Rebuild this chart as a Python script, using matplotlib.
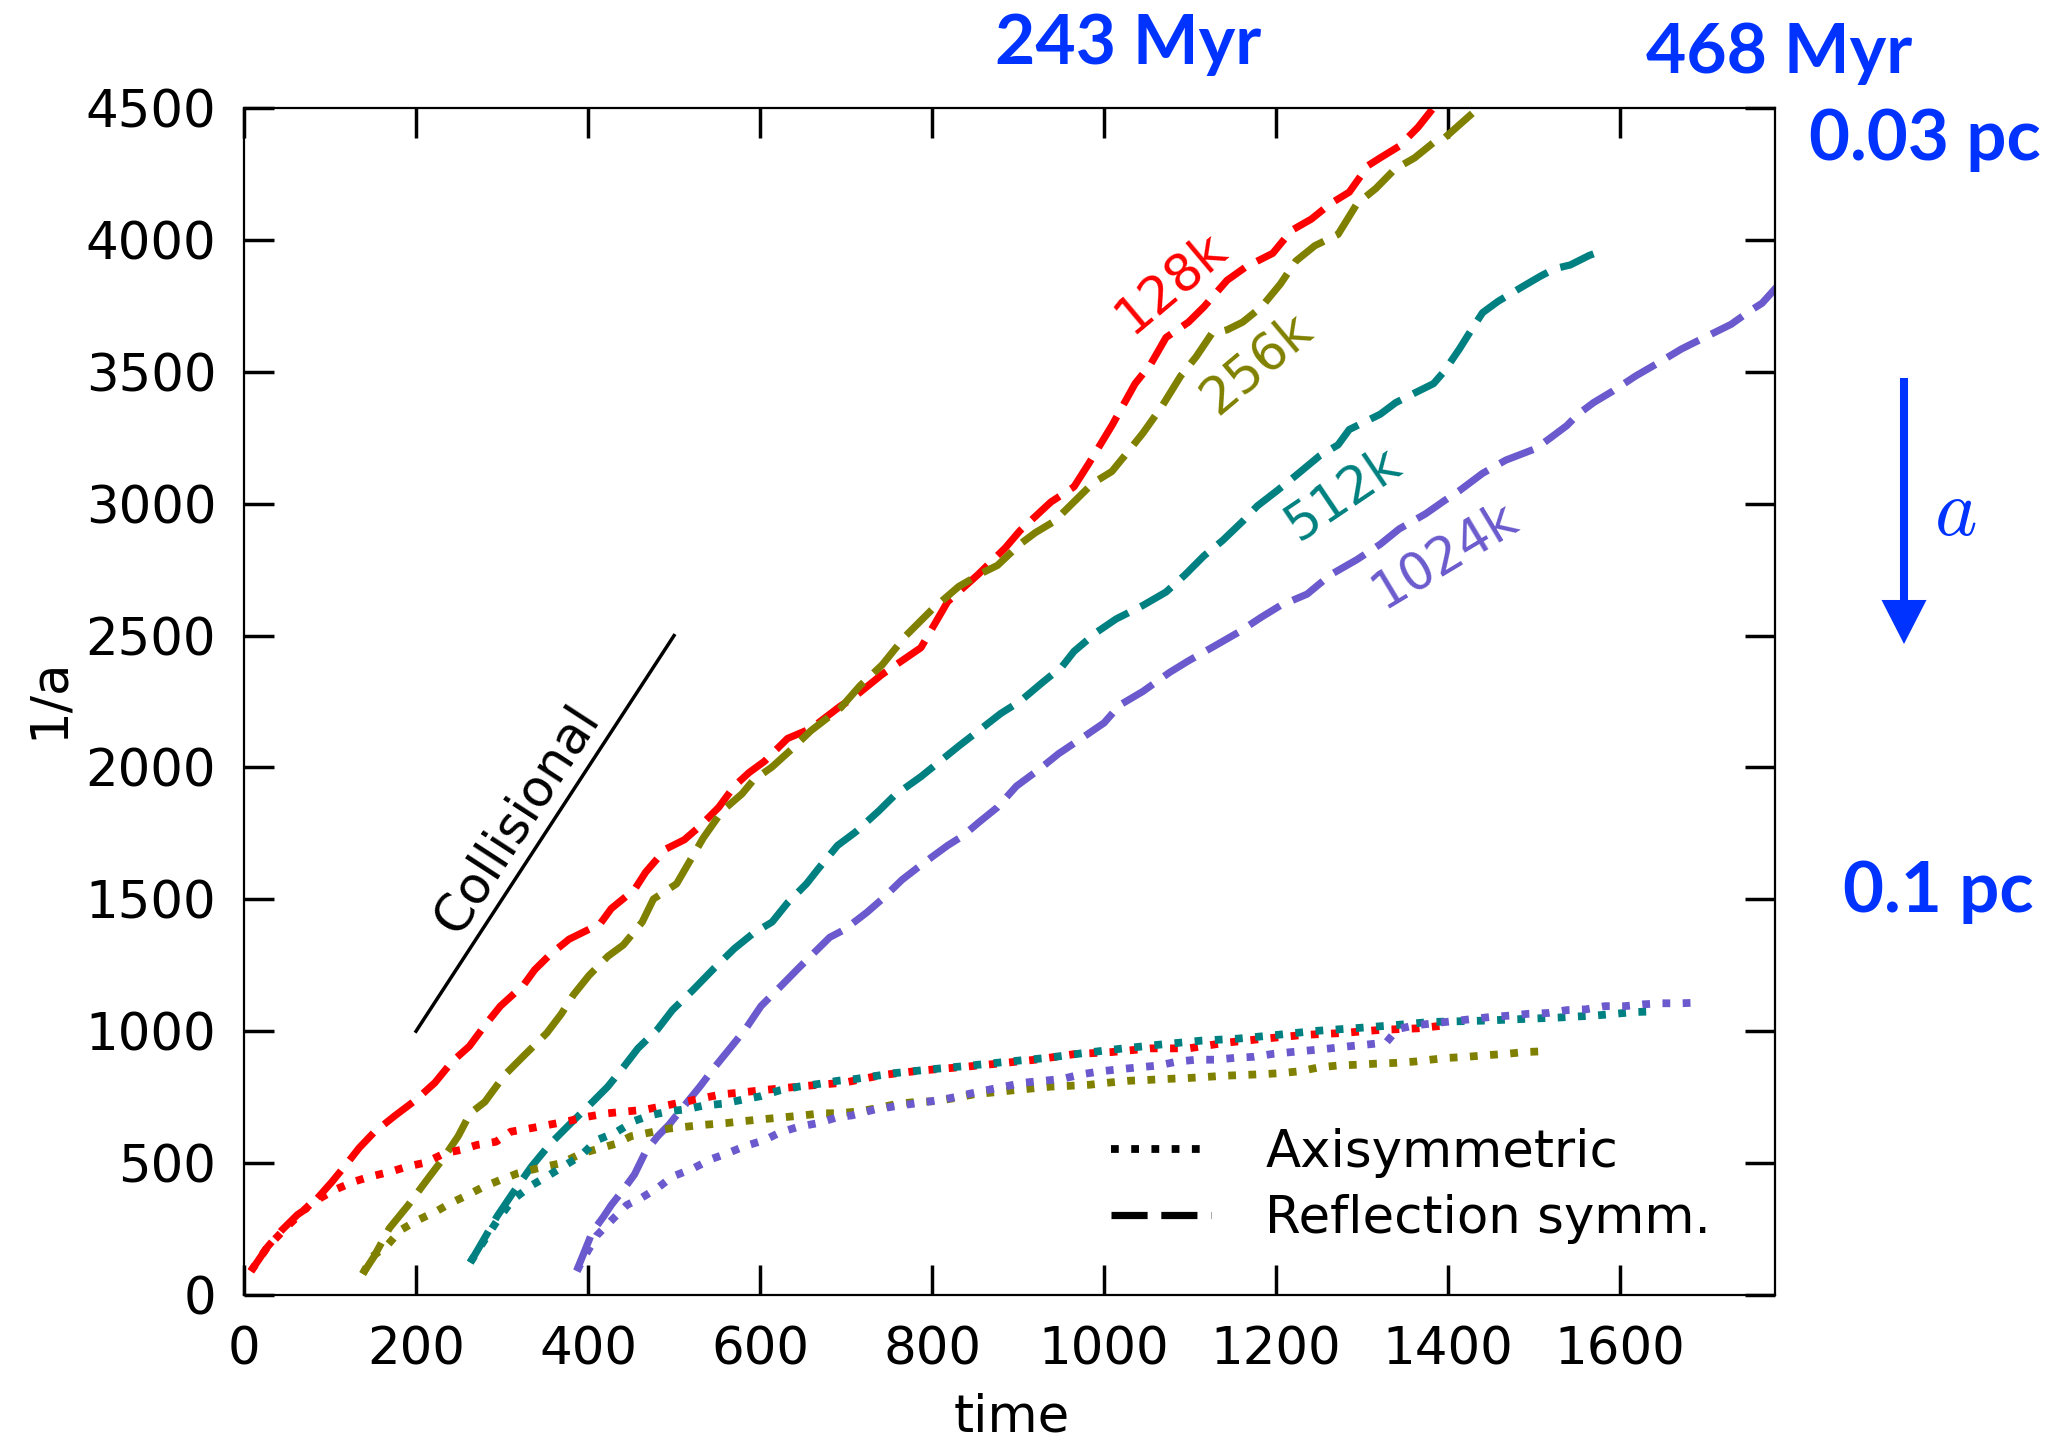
import matplotlib
matplotlib.use('Agg')
import matplotlib.pyplot as plt
from matplotlib.lines import Line2D

plt.rcParams['font.family'] = 'DejaVu Sans'

# --- data: time vs 1/a ---
# 128k, reflection symmetric (dashed)
t_128_ref = [8, 27, 44, 62, 78, 102, 120, 134, 151, 176, 200, 222, 242, 262, 280, 298, 325, 338,
             356, 378, 414, 427, 454, 467, 490, 512, 530, 552, 570, 587, 605, 632, 659, 694, 706,
             742, 787, 818, 853, 885, 902, 938, 965, 982, 1009, 1036, 1054, 1072, 1098, 1116, 1143,
             1165, 1196, 1218, 1241, 1263, 1285, 1307, 1321, 1343, 1365, 1390]
a_128_ref = [90, 181, 246, 304, 340, 428, 500, 558, 616, 681, 740, 805, 885, 943, 1022, 1095, 1175,
             1233, 1291, 1349, 1407, 1465, 1537, 1603, 1690, 1726, 1777, 1849, 1929, 1980, 2023, 2110,
             2147, 2234, 2258, 2353, 2454, 2628, 2730, 2832, 2897, 3006, 3064, 3151, 3296, 3455, 3528,
             3630, 3688, 3746, 3847, 3898, 3949, 4036, 4079, 4137, 4181, 4282, 4311, 4355, 4427, 4530]

# 256k, reflection symmetric
t_256_ref = [138, 151, 169, 191, 214, 231, 249, 263, 280, 303, 325, 352, 369, 383, 401, 423, 441, 463,
             476, 503, 516, 534, 556, 579, 592, 614, 636, 659, 694, 716, 742, 769, 800, 831, 858, 876,
             902, 920, 942, 969, 987, 1009, 1027, 1045, 1067, 1089, 1107, 1125, 1143, 1161, 1183, 1205,
             1223, 1245, 1272, 1294, 1316, 1338, 1361, 1383, 1395, 1442]
a_256_ref = [80, 145, 253, 341, 442, 515, 602, 689, 732, 834, 906, 993, 1066, 1138, 1211, 1284, 1327,
             1414, 1501, 1559, 1632, 1733, 1835, 1900, 1951, 2002, 2067, 2139, 2227, 2309, 2389, 2498,
             2599, 2686, 2737, 2766, 2846, 2890, 2933, 3020, 3078, 3122, 3194, 3267, 3368, 3484, 3557,
             3644, 3659, 3688, 3746, 3833, 3920, 3978, 4021, 4137, 4195, 4268, 4311, 4369, 4384, 4520]

# 512k, reflection symmetric
t_512_ref = [263, 276, 294, 312, 334, 356, 378, 401, 423, 441, 458, 481, 498, 521, 547, 570, 592, 614,
             632, 654, 668, 690, 711, 738, 756, 787, 809, 831, 854, 880, 902, 929, 951, 965, 991, 1014,
             1045, 1072, 1094, 1116, 1138, 1161, 1178, 1201, 1223, 1250, 1272, 1285, 1321, 1339, 1365,
             1383, 1395, 1413, 1427, 1440, 1458, 1484, 1507, 1524, 1542, 1564, 1580]
a_512_ref = [123, 195, 297, 384, 486, 573, 645, 718, 790, 863, 935, 1008, 1080, 1153, 1240, 1313, 1371,
             1414, 1487, 1559, 1617, 1704, 1755, 1835, 1893, 1965, 2023, 2081, 2139, 2205, 2250, 2324,
             2382, 2440, 2512, 2563, 2614, 2665, 2730, 2802, 2861, 2933, 2991, 3049, 3107, 3180, 3223,
             3281, 3339, 3383, 3426, 3455, 3500, 3586, 3659, 3724, 3767, 3818, 3862, 3891, 3905, 3941,
             3960]

# 1024k, reflection symmetric
t_1024_ref = [387, 396, 405, 418, 427, 441, 454, 467, 481, 494, 512, 530, 547, 565, 583, 601, 623, 645,
              663, 681, 698, 724, 742, 765, 782, 800, 818, 836, 854, 876, 898, 925, 947, 974, 1000,
              1018, 1045, 1076, 1098, 1125, 1156, 1183, 1205, 1236, 1263, 1294, 1321, 1343, 1374, 1395,
              1413, 1440, 1467, 1502, 1520, 1538, 1551, 1569, 1591, 1618, 1645, 1671, 1698, 1729, 1751,
              1765, 1781, 1795]
a_1024_ref = [94, 166, 239, 297, 341, 399, 457, 544, 602, 645, 718, 790, 863, 935, 1008, 1095, 1167,
              1240, 1298, 1356, 1385, 1450, 1501, 1574, 1617, 1661, 1704, 1741, 1791, 1849, 1929, 1994,
              2052, 2111, 2169, 2236, 2288, 2360, 2404, 2454, 2512, 2570, 2614, 2657, 2730, 2788, 2846,
              2904, 2962, 3010, 3049, 3115, 3165, 3209, 3252, 3296, 3339, 3383, 3426, 3484, 3535, 3586,
              3630, 3680, 3731, 3760, 3818, 3845]

# axisymmetric runs (dotted)
t_128_axi = [8, 27, 50, 78, 105, 128, 147, 171, 190, 211, 233, 252, 271, 293, 310, 333, 378, 396, 423,
             445, 467, 490, 512, 534, 556, 579, 601, 623, 645, 668, 698, 742, 787, 831, 876, 920, 965,
             1009, 1054, 1098, 1143, 1187, 1232, 1276, 1321, 1365, 1390]
a_128_axi = [90, 181, 259, 347, 398, 430, 449, 468, 487, 502, 537, 550, 569, 581, 619, 632, 660, 674,
             689, 696, 703, 718, 732, 747, 761, 768, 776, 783, 790, 797, 805, 834, 851, 863, 877, 892,
             913, 921, 935, 935, 957, 972, 986, 993, 1005, 1011, 1020]

t_256_axi = [138, 149, 167, 182, 202, 223, 240, 260, 279, 298, 318, 341, 369, 392, 432, 450, 472, 494,
             534, 561, 583, 605, 628, 650, 672, 690, 716, 738, 760, 782, 805, 827, 849, 871, 894, 916,
             938, 960, 983, 1005, 1027, 1049, 1072, 1094, 1116, 1138, 1161, 1183, 1205, 1227, 1250,
             1272, 1294, 1316, 1339, 1361, 1379, 1400, 1422, 1444, 1467, 1489, 1511]
a_256_axi = [80, 145, 190, 246, 284, 316, 348, 379, 411, 436, 461, 480, 500, 536, 573, 602, 616, 631,
             645, 652, 660, 667, 674, 681, 689, 689, 696, 710, 725, 732, 735, 747, 761, 768, 776, 783,
             790, 793, 797, 805, 812, 815, 819, 822, 826, 831, 834, 837, 841, 848, 863, 870, 873, 877,
             880, 885, 892, 899, 903, 909, 914, 921, 924]

t_512_axi = [263, 276, 294, 312, 334, 352, 374, 392, 410, 432, 454, 472, 494, 516, 534, 556, 579, 601,
             623, 645, 668, 690, 711, 756, 800, 845, 889, 934, 978, 1023, 1067, 1112, 1156, 1201, 1245,
             1290, 1334, 1379, 1440, 1484, 1529, 1573, 1618, 1640]
a_512_axi = [123, 190, 280, 360, 415, 449, 493, 529, 587, 616, 660, 681, 696, 705, 718, 725, 740, 754,
             776, 790, 800, 812, 819, 841, 856, 870, 885, 899, 918, 935, 950, 964, 972, 986, 1001, 1011,
             1022, 1035, 1040, 1046, 1052, 1060, 1073, 1075]

t_1024_axi = [387, 392, 410, 427, 445, 463, 481, 498, 521, 543, 561, 583, 605, 623, 645, 668, 690, 707,
              733, 756, 778, 800, 822, 845, 867, 907, 929, 951, 974, 996, 1018, 1040, 1063, 1085, 1107,
              1129, 1152, 1174, 1196, 1218, 1241, 1263, 1285, 1307, 1328, 1341, 1361, 1383, 1422, 1449,
              1471, 1493, 1516, 1538, 1560, 1582, 1605, 1627, 1649, 1671, 1694]
a_1024_axi = [90, 123, 225, 282, 341, 370, 406, 449, 478, 515, 536, 565, 587, 616, 638, 652, 674, 681,
              703, 715, 725, 735, 747, 764, 779, 805, 812, 819, 837, 848, 856, 863, 870, 885, 892, 892,
              899, 903, 914, 921, 928, 935, 943, 950, 957, 1008, 1022, 1030, 1044, 1054, 1059, 1066,
              1069, 1080, 1083, 1095, 1095, 1102, 1106, 1106, 1109]

labels = ['128k', '256k', '512k', '1024k']
colors = ['#ff0000', '#808000', '#008080', '#6a5acd']
ref_runs = [(t_128_ref, a_128_ref), (t_256_ref, a_256_ref), (t_512_ref, a_512_ref), (t_1024_ref, a_1024_ref)]
axi_runs = [(t_128_axi, a_128_axi), (t_256_axi, a_256_axi), (t_512_axi, a_512_axi), (t_1024_axi, a_1024_axi)]

blue = '#0033ff'
W, H = 2066, 1443

fig = plt.figure(figsize=(W / 100, H / 100), dpi=100)
ax = fig.add_axes([244 / W, 1 - 1295 / H, 1531 / W, 1187 / H])

dash = (0, (5.0, 1.9))
dot = (0, (1.0, 1.6))
lw_dash = 5.2
lw_dot = 5.6

for (t, a), c in zip(ref_runs, colors):
    ax.plot(t, a, color=c, lw=lw_dash, ls=dash)
for (t, a), c in zip(axi_runs, colors):
    ax.plot(t, a, color=c, lw=lw_dot, ls=dot)

# run labels next to the curves
label_pos = [(1078, 3837, 40), (1178, 3529, 40), (1278, 3037, 34), (1396, 2805, 31)]
for lab, c, (x, y, rot) in zip(labels, colors, label_pos):
    ax.text(x, y, lab, color=c, fontsize=37, rotation=rot, ha='center', va='center')

# collisional slope guide
ax.plot([200, 500], [1000, 2500], color='black', lw=2.5)
ax.text(318, 1801, 'Collisional', fontsize=37, rotation=57, ha='center', va='center')

ax.set_xlim(0, 1780)
ax.set_ylim(0, 4500)
ax.set_xticks(range(0, 1601, 200))
ax.set_yticks(range(0, 4501, 500))
ax.tick_params(direction='in', length=21.6, width=2.5, labelsize=37, top=True, right=True)
ax.tick_params(axis='x', pad=22)
ax.tick_params(axis='y', pad=20)
for s in ax.spines.values():
    s.set_linewidth(1.6)

ax.set_xlabel('time', fontsize=37)
ax.xaxis.set_label_coords(0.5016, -0.082)
ax.set_ylabel('1/a', fontsize=37)
ax.yaxis.set_label_coords(-0.111, 0.503)

handles = [Line2D([], [], color='black', lw=lw_dot, ls=dot),
           Line2D([], [], color='black', lw=lw_dash, ls=dash)]
ax.legend(handles, ['Axisymmetric', 'Reflection symm.'], frameon=False, fontsize=37,
          handlelength=1.95, handletextpad=1.05, labelspacing=0.32, borderpad=0, borderaxespad=0,
          loc='upper left', bbox_to_anchor=(1111 / W, 1 - 1128 / H), bbox_transform=fig.transFigure)

# blue annotations outside the axes
bold = dict(color=blue, fontweight='bold', family='Lato', ha='left', va='baseline')
fig.text(995 / W, 1 - 64 / H, '243 Myr', fontsize=50, **bold)
fig.text(1646 / W, 1 - 73 / H, '468 Myr', fontsize=50, **bold)
fig.text(1809 / W, 1 - 160 / H, '0.03 pc', fontsize=51, **bold)
fig.text(1843 / W, 1 - 912 / H, '0.1 pc', fontsize=51, **bold)

ax.annotate('', xy=(1904, H - 644), xycoords='figure pixels',
            xytext=(1904, H - 378), textcoords='figure pixels',
            arrowprops=dict(width=5.8, headwidth=32.4, headlength=31.7, shrink=0,
                            color=blue, lw=0))
fig.text(1934 / W, 1 - 535 / H, r'$a$', math_fontfamily='cm', fontsize=58, color=blue,
         ha='left', va='baseline')

fig.savefig('out.png', dpi=100)
